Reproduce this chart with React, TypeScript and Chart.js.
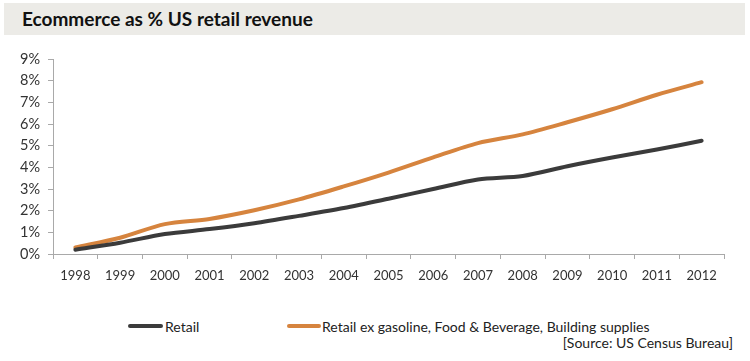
import React, { useEffect, useRef } from "react";
import { Chart, registerables } from "chart.js";

Chart.register(...registerables);

const years = ["1998","1999","2000","2001","2002","2003","2004","2005","2006","2007","2008","2009","2010","2011","2012"];
const retail = [0.2, 0.52, 0.92, 1.15, 1.42, 1.76, 2.12, 2.55, 3.0, 3.44, 3.6, 4.05, 4.45, 4.82, 5.23];
const retailEx = [0.3, 0.75, 1.38, 1.62, 2.02, 2.52, 3.12, 3.76, 4.46, 5.12, 5.52, 6.08, 6.68, 7.35, 7.93];
const yTicks = [0, 1, 2, 3, 4, 5, 6, 7, 8, 9];

const BLACK = "#3b3b3b";
const ORANGE = "#d6843e";
const AXIS = "#a9a9a9";
const FONT = "Lato, 'Open Sans', sans-serif";

export default function App() {
  const ref = useRef<HTMLCanvasElement | null>(null);
  useEffect(() => {
    if (!ref.current) return;
    const chart = new Chart(ref.current, {
      type: "line",
      data: {
        labels: years,
        datasets: [
          { label: "Retail", data: retail, borderColor: BLACK, backgroundColor: BLACK, borderWidth: 4, pointRadius: 0, tension: 0.3, borderCapStyle: "round" },
          { label: "Retail ex gasoline, Food & Beverage, Building supplies", data: retailEx, borderColor: ORANGE, backgroundColor: ORANGE, borderWidth: 4, pointRadius: 0, tension: 0.3, borderCapStyle: "round" },
        ],
      },
      options: {
        animation: false,
        responsive: false,
        maintainAspectRatio: false,
        layout: { padding: { left: 0, right: 26, top: 19, bottom: 0 } },
        plugins: { legend: { display: false }, tooltip: { enabled: false } },
        scales: {
          x: {
            offset: true,
            grid: { display: true, drawOnChartArea: false, drawTicks: true, tickLength: 5, color: AXIS, offset: true },
            border: { display: true, color: AXIS, width: 1 },
            ticks: { color: "#333", font: { family: FONT, size: 13 }, padding: 9, maxRotation: 0, autoSkip: false },
            afterFit: (s: any) => { s.height = 46; },
          },
          y: {
            min: 0,
            max: 9,
            afterBuildTicks: (s: any) => { s.ticks = yTicks.map((v) => ({ value: v })); },
            grid: { display: true, drawOnChartArea: false, drawTicks: true, tickLength: 5, color: AXIS },
            border: { display: true, color: AXIS, width: 1 },
            ticks: { color: "#333", font: { family: FONT, size: 14.5 }, padding: 8, callback: (v: any) => v + "%" },
            afterFit: (s: any) => { s.width = 53; },
          },
        },
      },
    });
    return () => chart.destroy();
  }, []);

  return (
    <div style={{ position: "fixed", left: 0, top: 0, width: 750, height: 361, background: "#fff", fontFamily: FONT, overflow: "hidden" }}>
      <div style={{ position: "absolute", left: 4, top: 3, width: 741, height: 32, background: "#ecebe7" }} />
      <div style={{ position: "absolute", left: 22, top: 7, fontSize: 19, fontWeight: 700, color: "#111", whiteSpace: "nowrap", lineHeight: "24px" }}>
        Ecommerce as % US retail revenue
      </div>
      <canvas ref={ref} width={750} height={260} style={{ position: "absolute", left: 0, top: 40, width: 750, height: 260 }} />
      <div style={{ position: "absolute", left: 128, top: 324, width: 35, height: 4, background: BLACK, borderRadius: 2 }} />
      <div style={{ position: "absolute", left: 165, top: 318, fontSize: 14, color: "#222", whiteSpace: "nowrap", lineHeight: "18px" }}>Retail</div>
      <div style={{ position: "absolute", left: 287, top: 324, width: 34, height: 4, background: ORANGE, borderRadius: 2 }} />
      <div style={{ position: "absolute", left: 322, top: 318, fontSize: 14, color: "#222", whiteSpace: "nowrap", lineHeight: "18px" }}>Retail ex gasoline, Food &amp; Beverage, Building supplies</div>
      <div style={{ position: "absolute", right: 17, top: 334, fontSize: 14, color: "#222", whiteSpace: "nowrap", lineHeight: "18px" }}>[Source: US Census Bureau]</div>
    </div>
  );
}
